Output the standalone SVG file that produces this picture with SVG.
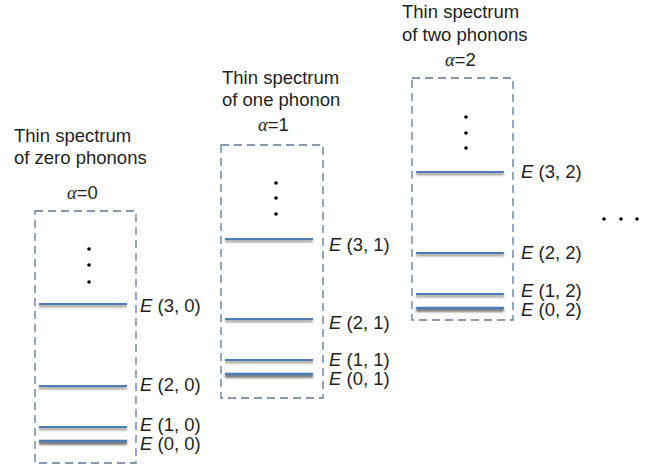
<svg xmlns="http://www.w3.org/2000/svg" width="646" height="470" viewBox="0 0 646 470">
<defs>
<filter id="sh" filterUnits="userSpaceOnUse" x="0" y="0" width="646" height="470">
<feGaussianBlur stdDeviation="0.9"/>
</filter>
</defs>
<style>
.t{font-family:"Liberation Sans",Arial,sans-serif;font-size:18.5px;fill:#231f20}
.it{font-style:italic}
.g{font-family:"Liberation Serif","Times New Roman",serif;font-style:italic}
.box{fill:none;stroke:#5b7a9c;stroke-width:1.3;stroke-dasharray:8,5}
.lv{stroke:#4a7ebb;stroke-width:2.2}
.lv0{stroke:#4a7ebb;stroke-width:2.6}
.sd{stroke:#7a6f66;stroke-width:2.4;opacity:0.75;filter:url(#sh)}
.sd0{stroke:#6b6057;stroke-width:4;opacity:0.85;filter:url(#sh)}
.dot{fill:#000}
</style>

<g id="col0">
<text class="t" x="14" y="142">Thin spectrum</text>
<text class="t" x="14" y="164">of zero phonons</text>
<text class="t" x="67" y="199"><tspan class="g">α</tspan>=0</text>
<rect class="box" x="35" y="211" width="101" height="252"/>
<circle class="dot" cx="89" cy="249" r="1.8"/>
<circle class="dot" cx="89" cy="265" r="1.8"/>
<circle class="dot" cx="89" cy="282" r="1.8"/>
<line class="sd" x1="39" y1="306" x2="127" y2="306"/>
<line class="lv" x1="39" y1="304" x2="127" y2="304"/>
<line class="sd" x1="39" y1="388" x2="127" y2="388"/>
<line class="lv" x1="39" y1="386" x2="127" y2="386"/>
<line class="sd" x1="39" y1="429" x2="127" y2="429"/>
<line class="lv" x1="39" y1="427" x2="127" y2="427"/>
<line class="sd0" x1="39" y1="443" x2="127" y2="443"/>
<line class="lv0" x1="39" y1="441" x2="127" y2="441"/>
<text class="t" x="140" y="312"><tspan class="it">E</tspan> (3, 0)</text>
<text class="t" x="140" y="391"><tspan class="it">E</tspan> (2, 0)</text>
<text class="t" x="140" y="431"><tspan class="it">E</tspan> (1, 0)</text>
<text class="t" x="140" y="450"><tspan class="it">E</tspan> (0, 0)</text>
</g>

<g id="col1">
<text class="t" x="222" y="84">Thin spectrum</text>
<text class="t" x="222" y="106">of one phonon</text>
<text class="t" x="258" y="131"><tspan class="g">α</tspan>=1</text>
<rect class="box" x="221" y="145" width="102" height="253"/>
<circle class="dot" cx="276" cy="183" r="1.8"/>
<circle class="dot" cx="276" cy="198" r="1.8"/>
<circle class="dot" cx="276" cy="214" r="1.8"/>
<line class="sd" x1="225" y1="241" x2="313" y2="241"/>
<line class="lv" x1="225" y1="239" x2="313" y2="239"/>
<line class="sd" x1="225" y1="321" x2="313" y2="321"/>
<line class="lv" x1="225" y1="319" x2="313" y2="319"/>
<line class="sd" x1="225" y1="362" x2="313" y2="362"/>
<line class="lv" x1="225" y1="360" x2="313" y2="360"/>
<line class="sd0" x1="225" y1="376" x2="313" y2="376"/>
<line class="lv0" x1="225" y1="374" x2="313" y2="374"/>
<text class="t" x="329" y="251"><tspan class="it">E</tspan> (3, 1)</text>
<text class="t" x="329" y="329"><tspan class="it">E</tspan> (2, 1)</text>
<text class="t" x="329" y="366"><tspan class="it">E</tspan> (1, 1)</text>
<text class="t" x="329" y="385"><tspan class="it">E</tspan> (0, 1)</text>
</g>

<g id="col2">
<text class="t" x="402" y="18">Thin spectrum</text>
<text class="t" x="402" y="41">of two phonons</text>
<text class="t" x="445" y="66"><tspan class="g">α</tspan>=2</text>
<rect class="box" x="412" y="78" width="101" height="242"/>
<circle class="dot" cx="466" cy="117" r="1.8"/>
<circle class="dot" cx="466" cy="133" r="1.8"/>
<circle class="dot" cx="466" cy="148" r="1.8"/>
<line class="sd" x1="416" y1="174" x2="504" y2="174"/>
<line class="lv" x1="416" y1="172" x2="504" y2="172"/>
<line class="sd" x1="416" y1="255" x2="504" y2="255"/>
<line class="lv" x1="416" y1="253" x2="504" y2="253"/>
<line class="sd" x1="416" y1="296" x2="504" y2="296"/>
<line class="lv" x1="416" y1="294" x2="504" y2="294"/>
<line class="sd0" x1="416" y1="310" x2="504" y2="310"/>
<line class="lv0" x1="416" y1="308" x2="504" y2="308"/>
<text class="t" x="521" y="178"><tspan class="it">E</tspan> (3, 2)</text>
<text class="t" x="521" y="259"><tspan class="it">E</tspan> (2, 2)</text>
<text class="t" x="521" y="297"><tspan class="it">E</tspan> (1, 2)</text>
<text class="t" x="521" y="316"><tspan class="it">E</tspan> (0, 2)</text>
</g>

<g id="more">
<circle class="dot" cx="604" cy="219" r="1.8"/>
<circle class="dot" cx="621" cy="219" r="1.8"/>
<circle class="dot" cx="637" cy="219" r="1.8"/>
</g>
</svg>
